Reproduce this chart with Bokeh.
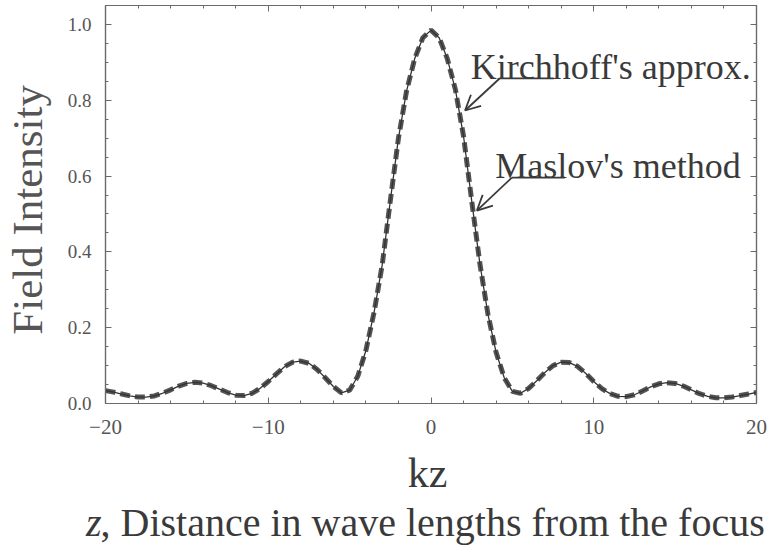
from bokeh.plotting import figure
from bokeh.layouts import column
from bokeh.models import Range1d, LinearAxis, FixedTicker, Label, Arrow, OpenHead, ColumnDataSource
from bokeh.embed import file_html
from bokeh.resources import INLINE

# ---- data ----
kz = [-20.0, -19.5, -19.0, -18.5, -18.0, -17.5, -17.0, -16.5, -16.0, -15.5,
      -15.0, -14.5, -14.0, -13.5, -13.0, -12.5, -12.0, -11.5, -11.0, -10.5,
      -10.0, -9.5, -9.0, -8.5, -8.0, -7.5, -7.0, -6.5, -6.0, -5.5,
      -5.0, -4.5, -4.0, -3.5, -3.0, -2.5, -2.0, -1.5, -1.0, -0.5,
      0.0,
      0.5, 1.0, 1.5, 2.0, 2.5, 3.0, 3.5, 4.0, 4.5, 5.0,
      5.5, 6.0, 6.5, 7.0, 7.5, 8.0, 8.5, 9.0, 9.5, 10.0,
      10.5, 11.0, 11.5, 12.0, 12.5, 13.0, 13.5, 14.0, 14.5, 15.0,
      15.5, 16.0, 16.5, 17.0, 17.5, 18.0, 18.5, 19.0, 19.5, 20.0]

kirchhoff = [0.034, 0.030, 0.025, 0.020, 0.017, 0.017, 0.020, 0.027, 0.036, 0.046,
             0.053, 0.056, 0.054, 0.047, 0.038, 0.029, 0.022, 0.021, 0.027, 0.040,
             0.058, 0.078, 0.097, 0.109, 0.112, 0.106, 0.090, 0.068, 0.045, 0.028,
             0.035, 0.072, 0.140, 0.240, 0.365, 0.535, 0.700, 0.825, 0.910, 0.965,
             0.985,
             0.965, 0.910, 0.828, 0.705, 0.535, 0.370, 0.235, 0.135, 0.068, 0.032,
             0.027, 0.040, 0.060, 0.082, 0.100, 0.109, 0.108, 0.098, 0.080, 0.058,
             0.039, 0.026, 0.019, 0.018, 0.023, 0.033, 0.044, 0.052, 0.055, 0.053,
             0.046, 0.036, 0.026, 0.019, 0.015, 0.015, 0.017, 0.021, 0.025, 0.029]

maslov = [0.034, 0.030, 0.025, 0.020, 0.017, 0.017, 0.020, 0.027, 0.036, 0.046,
          0.053, 0.056, 0.054, 0.047, 0.038, 0.029, 0.022, 0.021, 0.027, 0.040,
          0.058, 0.078, 0.097, 0.109, 0.112, 0.106, 0.090, 0.068, 0.045, 0.028,
          0.035, 0.072, 0.140, 0.240, 0.365, 0.535, 0.700, 0.825, 0.910, 0.965,
          0.985,
          0.965, 0.910, 0.828, 0.705, 0.535, 0.370, 0.235, 0.135, 0.068, 0.032,
          0.027, 0.040, 0.060, 0.082, 0.100, 0.109, 0.108, 0.098, 0.080, 0.058,
          0.039, 0.026, 0.019, 0.018, 0.023, 0.033, 0.044, 0.052, 0.055, 0.053,
          0.046, 0.036, 0.026, 0.019, 0.015, 0.015, 0.017, 0.021, 0.025, 0.029]

x_ticks = [-20, -10, 0, 10, 20]
x_tick_labels = ["\u221220", "\u221210", "0", "10", "20"]
y_ticks = [0.0, 0.2, 0.4, 0.6, 0.8, 1.0]
y_tick_labels = ["0.0", "0.2", "0.4", "0.6", "0.8", "1.0"]

label_kirchhoff = "Kirchhoff's approx."
label_maslov = "Maslov's method"
x_title = "kz"
x_subtitle_var = "z"
x_subtitle_rest = ", Distance in wave lengths from the focus"
y_title = "Field  Intensity"

# ---- styling ----
FONT = "Liberation Serif"
TXT = "#3a3a3a"
AX = "#6a6a6a"
W = 767

p = figure(width=W, height=445,
           x_range=Range1d(-20, 20), y_range=Range1d(0, 1.05),
           output_backend="svg", toolbar_location=None,
           min_border_left=103, min_border_right=11,
           min_border_top=5, min_border_bottom=42,
           background_fill_color="white", border_fill_color="white")
p.frame_align = False
p.grid.visible = False
p.outline_line_color = AX
p.outline_line_width = 1.2

x_minor = [-20 + 2 * i for i in range(21)]
y_minor = [round(0.05 * i, 2) for i in range(22)]

def style_axis(ax, ticks, minor, labels, show_labels):
    ax.ticker = FixedTicker(ticks=ticks, minor_ticks=minor)
    ax.major_label_overrides = {t: l for t, l in zip(ticks, labels)}
    ax.axis_line_color = AX
    ax.axis_line_width = 1.2
    ax.major_tick_line_color = AX
    ax.minor_tick_line_color = AX
    ax.major_tick_in = 6
    ax.major_tick_out = 0
    ax.minor_tick_in = 3
    ax.minor_tick_out = 0
    ax.major_label_text_font = FONT
    ax.major_label_text_color = "#555555"
    if not show_labels:
        ax.major_label_text_color = None
        ax.major_label_text_font_size = "1px"
        ax.major_label_standoff = 0

style_axis(p.xaxis[0], x_ticks, x_minor, x_tick_labels, True)
style_axis(p.yaxis[0], y_ticks, y_minor, y_tick_labels, True)
p.xaxis.major_label_text_font_size = "21px"
p.yaxis.major_label_text_font_size = "19px"
p.xaxis.major_label_standoff = 16
p.yaxis.major_label_standoff = 14

p.yaxis.axis_label = y_title
p.yaxis.axis_label_text_font = FONT
p.yaxis.axis_label_text_font_style = "normal"
p.yaxis.axis_label_text_font_size = "43px"
p.yaxis.axis_label_text_color = "#555555"
p.yaxis.axis_label_standoff = 14

top = LinearAxis()
style_axis(top, x_ticks, x_minor, x_tick_labels, False)
p.add_layout(top, "above")
right = LinearAxis()
style_axis(right, y_ticks, y_minor, y_tick_labels, False)
p.add_layout(right, "right")

src = ColumnDataSource(dict(kz=kz, kirchhoff=kirchhoff, maslov=maslov))
p.line("kz", "maslov", source=src, line_color="#545454", line_width=5,
       line_dash="10 5", line_cap="butt")
p.line("kz", "kirchhoff", source=src, line_color="#333333", line_width=1.3)

# annotations with arrows
p.add_layout(Label(x=2.45, y=0.887, text=label_kirchhoff, text_font=FONT,
                   text_font_size="36px", text_color=TXT,
                   text_align="left", text_baseline="alphabetic"))
p.add_layout(Label(x=3.95, y=0.626, text=label_maslov, text_font=FONT,
                   text_font_size="36px", text_color=TXT,
                   text_align="left", text_baseline="alphabetic"))

for (xs, ys, xe, ye, xh) in [(4.23, 0.858, 2.09, 0.773, 7.55),
                             (4.97, 0.596, 2.82, 0.509, 8.22)]:
    p.add_layout(Arrow(x_start=xs, y_start=ys, x_end=xh, y_end=ys, end=None,
                       line_color="#3a3a3a", line_width=1.8))
    p.add_layout(Arrow(x_start=xs, y_start=ys, x_end=xe, y_end=ye,
                       end=OpenHead(size=15, line_color="#3a3a3a", line_width=1.8),
                       line_color="#3a3a3a", line_width=1.8))

# caption panel below the chart (pixel coordinates, y measured from its top)
cap = figure(width=W, height=100, x_range=Range1d(0, W), y_range=Range1d(100, 0),
             output_backend="svg", toolbar_location=None,
             x_axis_type=None, y_axis_type=None,
             min_border_left=0, min_border_right=0, min_border_top=0, min_border_bottom=0,
             background_fill_color="white", border_fill_color="white")
cap.frame_align = False
cap.grid.visible = False
cap.outline_line_color = None

cap.add_layout(Label(x=427, y=27, text=x_title, text_font=FONT,
                     text_font_size="42px", text_color=TXT,
                     text_align="center", text_baseline="alphabetic"))
cap.add_layout(Label(x=101, y=77, text=x_subtitle_var, text_font=FONT,
                     text_font_style="italic", text_font_size="40px", text_color=TXT,
                     text_align="right", text_baseline="alphabetic"))
cap.add_layout(Label(x=100, y=77, text=x_subtitle_rest, text_font=FONT,
                     text_font_size="40px", text_color=TXT,
                     text_align="left", text_baseline="alphabetic"))

layout = column(p, cap, spacing=0)
open("out.html", "w").write(file_html(layout, INLINE))
